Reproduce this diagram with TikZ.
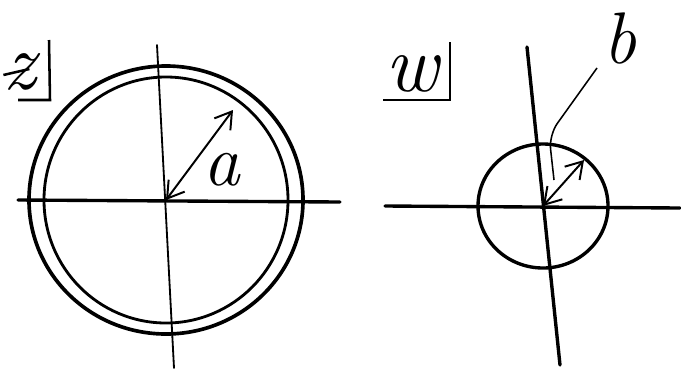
\documentclass[tikz,border=0pt]{standalone}
\usepackage{fontspec}
\usepackage{tikz}
\usetikzlibrary{arrows.meta,positioning,calc}

\begin{document}
\begin{tikzpicture}[x=0.025cm, y=-0.025cm, every node/.style={font=\fontsize{52}{60}\selectfont\itshape, inner sep=0pt},
  axis/.style={line width=2.4pt, line cap=round},
  thinaxis/.style={line width=1.3pt, line cap=round},
  ring/.style={line width=2.6pt},
  radius/.style={line width=1.4pt, {Straight Barb[length=4mm,width=5mm]}-{Straight Barb[length=4mm,width=5mm]}},
  leader/.style={line width=1.1pt, rounded corners=10pt},
  plane/.style={line width=1.8pt},
  planelab/.style={font=\fontsize{58}{64}\selectfont\itshape}
]
  \useasboundingbox (0,0) rectangle (681,370);

  % Mittelpunkte
  \coordinate (zc) at (166,200);
  \coordinate (wc) at (543,206);

  % z-Ebene
  \draw[axis] (18,200) -- (340,202);
  \draw[thinaxis] (157,45) -- (174,368);
  \draw[ring] (zc) ellipse [x radius=137, y radius=134];
  \draw[ring, line width=2pt] (zc) ellipse [x radius=122, y radius=123];
  \coordinate (za) at (233,110);
  \draw[radius] (zc) -- (za);
  \node (laba) at (222,170) {a};

  % w-Ebene
  \draw[axis] (385,206) -- (680,208);
  \draw[axis] (527,47) -- (560,365);
  \draw[ring, line width=2.4pt] (wc) ellipse [x radius=65, y radius=62];
  \coordinate (wb) at (584,160);
  \draw[radius] (wc) -- (wb);
  \node (labb) at (620,38) {b};
  \coordinate (bend) at (549,135);
  \coordinate (btip) at (554,180);
  \draw[leader] (597,68) -- (bend) -- (btip);

  % Ebenenbezeichnungen
  \node[planelab] (labz) at (20,72) {z};
  \draw[plane] (49,40) -- (50,100) -- (18,100);
  \draw[plane] (labz.west) ++(0,3) -- ++(26,-6);
  \node[planelab] (labw) at (412,74) {w};
  \draw[plane] (450,42) -- (450,100) -- (383,100);
\end{tikzpicture}
\end{document}
